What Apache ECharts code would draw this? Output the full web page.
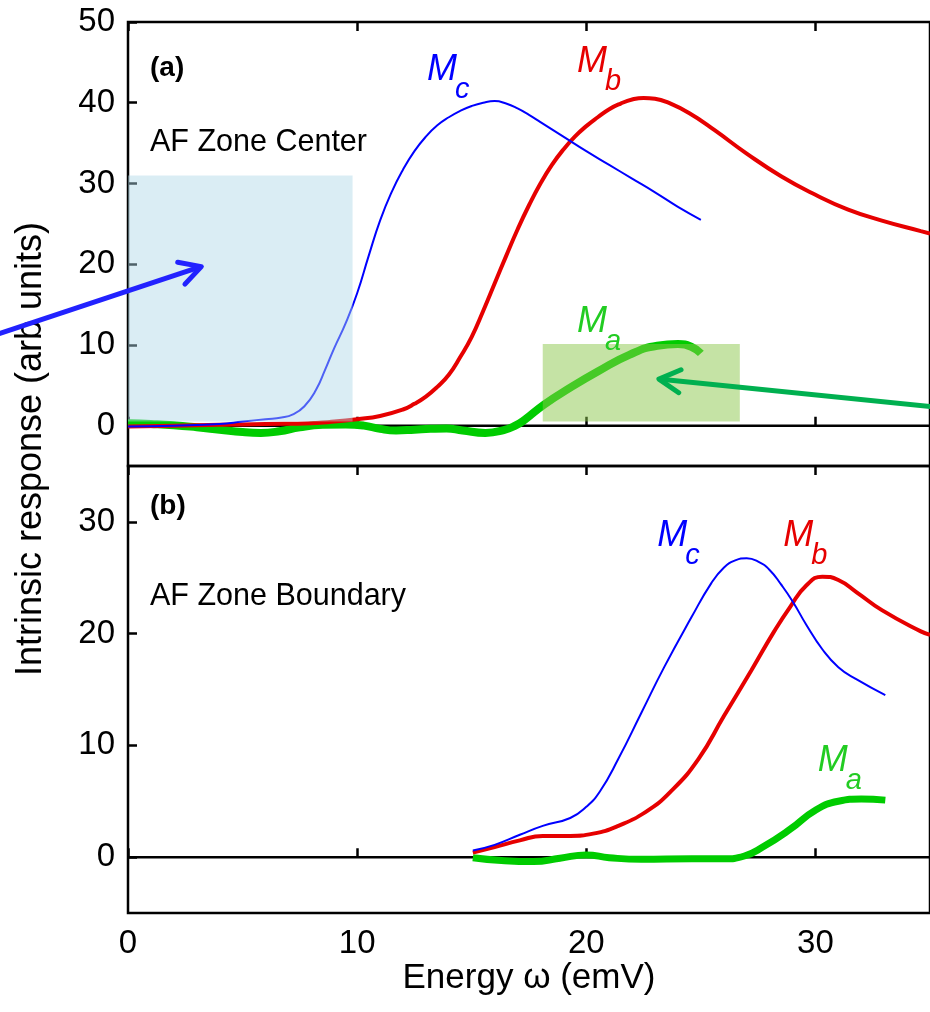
<!DOCTYPE html>
<html><head><meta charset="utf-8">
<script src="https://cdn.jsdelivr.net/npm/echarts@6/dist/echarts.min.js"></script>
<style>html,body{margin:0;padding:0;background:#fff}#c{width:930px;height:1012px}</style>
</head><body><div id="c"></div>
<script>
// ---------- data ----------
const xTicks = [0, 10, 20, 30];
const yTicksTop = [0, 10, 20, 30, 40, 50];
const yTicksBottom = [0, 10, 20, 30];

// Panel (a): AF zone center
const topMc = [[0,-0.1],[2,0.0],[4,0.2],[5,0.5],[6,0.8],[6.7,1.0],[7.2,1.4],[7.7,2.4],[8.2,4.4],[8.6,6.9],[9,9.6],[9.5,12.7],[10,16.4],[10.5,21.0],[11,25.4],[11.5,28.9],[12,31.7],[12.5,34.0],[13,35.8],[13.5,37.2],[14,38.2],[14.5,39.0],[15,39.6],[15.5,40.0],[16,40.2],[16.5,39.9],[17,39.3],[17.5,38.5],[18,37.6],[19,35.8],[20,34.0],[21,32.3],[22,30.6],[23,28.9],[24,27.1],[25,25.5]];
const topMb = [[0,-0.1],[2,0.0],[4,0.1],[6,0.2],[8,0.3],[9,0.5],[10,0.8],[11,1.2],[12,2.0],[12.5,2.7],[13,3.6],[13.5,4.8],[14,6.3],[14.5,8.5],[15,11.0],[15.5,14.2],[16,17.6],[16.5,21.0],[17,24.3],[17.5,27.3],[18,30.0],[18.5,32.3],[19,34.2],[19.5,35.8],[20,37.1],[20.5,38.2],[21,39.2],[21.5,39.9],[22,40.4],[22.5,40.6],[23,40.5],[23.5,40.1],[24.5,38.7],[25.6,36.6],[27,33.7],[28.5,30.9],[30,28.6],[31.4,26.8],[32.9,25.4],[34.6,24.1],[35,23.8]];
const topMa = [[0,0.3],[1,0.2],[2,0.05],[3,-0.2],[4,-0.5],[5,-0.8],[5.8,-0.9],[6.6,-0.7],[7.5,-0.2],[8.5,0.1],[9.5,0.15],[10.3,0.0],[11,-0.4],[11.7,-0.6],[12.5,-0.5],[13.2,-0.4],[13.9,-0.35],[14.6,-0.6],[15.6,-0.9],[16.4,-0.55],[16.9,0.0],[17.3,0.7],[18.15,2.6],[19.3,4.7],[20.5,6.7],[21.9,8.8],[23.1,9.9],[24,10.1],[24.6,9.75],[25,8.95]];

// Panel (b): AF zone boundary
const botMc = [[15.05,0.6],[16,1.1],[17.1,2.0],[18.1,2.8],[19.3,3.5],[20,4.5],[20.6,5.9],[21.4,8.8],[22.4,12.9],[23.4,17.0],[24.6,21.5],[25.45,24.5],[26,25.9],[26.5,26.55],[27,26.75],[27.5,26.45],[28,25.7],[28.5,24.4],[29,22.9],[29.6,20.8],[30.3,18.6],[31,17.0],[31.8,15.9],[33.05,14.5]];
const botMb = [[15.05,0.4],[16,0.9],[17.1,1.5],[18.1,1.9],[19.3,1.9],[20.3,2.1],[21.4,2.8],[22.6,4.05],[23.7,5.9],[24.9,8.8],[26,12.6],[27.2,16.7],[28.2,20.2],[28.9,22.4],[29.6,24.3],[30.3,25.1],[31,24.8],[31.8,23.7],[32.9,22.1],[34.6,20.2],[35,19.9]];
const botMa = [[15.05,-0.05],[16.3,-0.3],[17.7,-0.4],[18.85,-0.1],[20,0.2],[21,-0.05],[22.4,-0.2],[24.6,-0.15],[26,-0.15],[26.9,0.1],[27.7,0.9],[28.9,2.5],[30,4.2],[31,5.0],[32,5.2],[33.05,5.1]];

const zeroLine = [[0,0],[35,0]];

// Annotations (data coordinates)
const shadeRects = [[0,0.5,9.8,31],[18.1,0.5,26.7,10.1]];
const arrows = [[-6.0,11.05,3.2,19.7],[35.1,2.35,23.17,5.76]];
const labelSubs = ['c','b','a'];
const topLabelPos = [[13.05,44.0],[19.6,45.05],[19.6,12.9]];
const botLabelPos = [[23.1,28.7],[28.6,28.7],[30.1,8.6]];
const topTexts = ['(a)','AF Zone Center'];
const topTextPos = [[0.96,44.3],[0.96,35.0]];
const botTexts = ['(b)','AF Zone Boundary'];
const botTextPos = [[0.96,31.4],[0.96,23.3]];

// ---------- styles ----------
const FONT = '"Liberation Sans", Arial, sans-serif';
const BLUE = '#0000ff', RED = '#e60000', GREEN = '#00cc00';
const labelColors = [BLUE, RED, '#22cc22'];
const rectColors = ['rgba(173,216,230,0.45)', 'rgba(140,200,75,0.5)'];
const arrowColors = ['#2222ff', '#00b050'];

function xAxisDef(gridIndex, pos, showLabel) {
  const a = {
    type: 'value', gridIndex: gridIndex, position: pos, min: 0, max: 35,
    axisLine: {show: false},
    splitLine: {show: false},
    axisTick: {show: true, inside: true, length: 9, customValues: xTicks, lineStyle: {color: '#000', width: 2.5}},
    axisLabel: {show: showLabel, customValues: xTicks, fontSize: 33, color: '#000', fontFamily: FONT, margin: 14}
  };
  if (showLabel) {
    a.name = 'Energy \u03c9 (emV)';
    a.nameLocation = 'middle';
    a.nameGap = 48;
    a.nameTextStyle = {fontSize: 35, color: '#000', fontFamily: FONT};
  }
  return a;
}
function yAxisDef(gridIndex, min, max, ticks) {
  return {
    type: 'value', gridIndex: gridIndex, min: min, max: max,
    axisLine: {show: false},
    splitLine: {show: false},
    axisTick: {show: true, inside: true, length: 9, customValues: ticks, lineStyle: {color: '#000', width: 2.5}},
    axisLabel: {customValues: ticks, fontSize: 33, color: '#000', fontFamily: FONT, margin: 13}
  };
}
function lineSeries(data, xi, yi, color, width, z) {
  return {type: 'line', xAxisIndex: xi, yAxisIndex: yi, data: data, showSymbol: false, symbol: 'none',
    smooth: 0.5, lineStyle: {color: color, width: width, cap: 'butt'}, z: z, silent: true};
}
function labelSeries(pos, xi, yi) {
  return {type: 'custom', xAxisIndex: xi, yAxisIndex: yi, data: pos, z: 20, silent: true, clip: false,
    renderItem: function (params, api) {
      const p = api.coord([api.value(0), api.value(1)]);
      const c = labelColors[params.dataIndex];
      return {type: 'group', children: [
        {type: 'text', x: p[0], y: p[1], style: {text: 'M', font: 'italic 36px ' + FONT, fill: c, align: 'left', verticalAlign: 'middle'}},
        {type: 'text', x: p[0] + 28, y: p[1] + 20, style: {text: labelSubs[params.dataIndex], font: 'italic 29px ' + FONT, fill: c, align: 'left', verticalAlign: 'middle'}}
      ]};
    }};
}
function textSeries(pos, texts, xi, yi) {
  return {type: 'custom', xAxisIndex: xi, yAxisIndex: yi, data: pos, z: 20, silent: true, clip: false,
    renderItem: function (params, api) {
      const p = api.coord([api.value(0), api.value(1)]);
      const t = texts[params.dataIndex];
      const bold = params.dataIndex === 0;
      return {type: 'text', x: p[0], y: p[1], style: {text: t, font: (bold ? 'bold 28px ' : '30.5px ') + FONT, fill: '#000', align: 'left', verticalAlign: 'middle'}};
    }};
}

const chart = echarts.init(document.getElementById('c'), null, {renderer: 'canvas'});
chart.setOption({
  animation: false,
  backgroundColor: '#fff',
  grid: [
    {left: 128, top: 22, width: 805, height: 444, show: true, borderColor: '#000', borderWidth: 2.5, containLabel: false},
    {left: 128, top: 466, width: 805, height: 447, show: true, borderColor: '#000', borderWidth: 2.5, containLabel: false}
  ],
  xAxis: [
    xAxisDef(0, 'bottom', false),
    xAxisDef(0, 'top', false),
    xAxisDef(1, 'bottom', true),
    xAxisDef(1, 'top', false)
  ],
  yAxis: [
    yAxisDef(0, -5, 50, yTicksTop),
    yAxisDef(1, -5, 35, yTicksBottom)
  ],
  graphic: [{
    type: 'text', x: 31, y: 449, rotation: Math.PI / 2,
    style: {text: 'Intrinsic response (arb units)', font: '36px ' + FONT, fill: '#000', align: 'center', verticalAlign: 'middle'}
  }],
  series: [
    lineSeries(zeroLine, 0, 0, '#000', 2.5, 2),
    lineSeries(zeroLine, 2, 1, '#000', 2.5, 2),
    lineSeries(topMa, 0, 0, GREEN, 8, 3),
    lineSeries(topMb, 0, 0, RED, 4, 4),
    lineSeries(topMc, 0, 0, BLUE, 2, 5),
    lineSeries(botMa, 2, 1, GREEN, 7, 3),
    lineSeries(botMb, 2, 1, RED, 4, 4),
    lineSeries(botMc, 2, 1, BLUE, 2, 5),
    {type: 'custom', xAxisIndex: 0, yAxisIndex: 0, data: shadeRects, z: 10, silent: true, clip: false,
      renderItem: function (params, api) {
        const p0 = api.coord([api.value(0), api.value(1)]);
        const p1 = api.coord([api.value(2), api.value(3)]);
        return {type: 'rect', shape: {x: p0[0], y: p1[1], width: p1[0] - p0[0], height: p0[1] - p1[1]},
          style: {fill: rectColors[params.dataIndex]}};
      }},
    {type: 'custom', xAxisIndex: 0, yAxisIndex: 0, data: arrows, z: 15, silent: true, clip: false,
      renderItem: function (params, api) {
        const a = api.coord([api.value(0), api.value(1)]);
        const b = api.coord([api.value(2), api.value(3)]);
        const ang = Math.atan2(b[1] - a[1], b[0] - a[0]);
        const L = 24, h = 0.5;
        const p1 = [b[0] - L * Math.cos(ang - h), b[1] - L * Math.sin(ang - h)];
        const p2 = [b[0] - L * Math.cos(ang + h), b[1] - L * Math.sin(ang + h)];
        const c = arrowColors[params.dataIndex];
        return {type: 'group', children: [
          {type: 'line', shape: {x1: a[0], y1: a[1], x2: b[0] - 2 * Math.cos(ang), y2: b[1] - 2 * Math.sin(ang)}, style: {stroke: c, lineWidth: 5}},
          {type: 'polyline', shape: {points: [p1, b, p2]}, style: {stroke: c, lineWidth: 5, fill: null, lineJoin: 'round', lineCap: 'round'}}
        ]};
      }},
    labelSeries(topLabelPos, 0, 0),
    labelSeries(botLabelPos, 2, 1),
    textSeries(topTextPos, topTexts, 0, 0),
    textSeries(botTextPos, botTexts, 2, 1)
  ]
});
</script></body></html>
